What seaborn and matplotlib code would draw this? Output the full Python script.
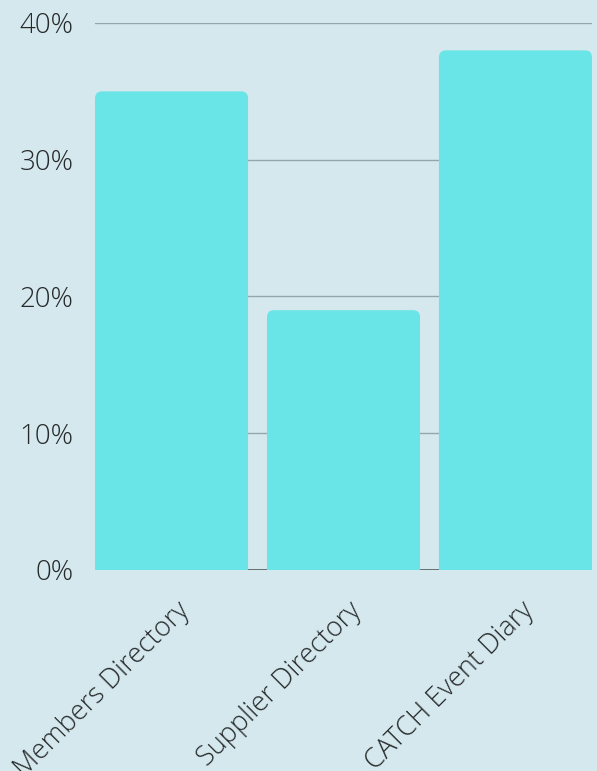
import matplotlib
matplotlib.use("Agg")
import matplotlib.pyplot as plt
import matplotlib.transforms as mtransforms
import seaborn as sns
import pandas as pd
from matplotlib.patches import FancyBboxPatch
from matplotlib.ticker import PercentFormatter

categories = ["Members Directory", "Supplier Directory", "CATCH Event Diary"]
values = [35, 19, 38]
yticks = [0, 10, 20, 30, 40]

BG = "#d5e8ed"
BAR = "#69e5e8"
TXT = "#25292a"

sns.set_theme(style="white")
plt.rcParams["font.family"] = ["Open Sans", "DejaVu Sans"]

df = pd.DataFrame({"cat": categories, "val": values})

W, H = 597, 771
fig = plt.figure(figsize=(W / 100, H / 100), dpi=100, facecolor=BG)
ax = fig.add_axes([95 / W, (H - 570) / H, (592 - 95) / W, (570 - 23) / H])
ax.set_facecolor(BG)

bw = 0.89
sns.barplot(data=df, x="cat", y="val", color=BAR, width=bw, saturation=1, ax=ax, zorder=2)
ax.set_xlim(-bw / 2, len(categories) - 1 + bw / 2)
ax.set_ylim(0, 40)

# replace bars by top-rounded bars
fig.canvas.draw()
xpx = ax.transData.transform([(1, 0)])[0][0] - ax.transData.transform([(0, 0)])[0][0]
ypx = ax.transData.transform([(0, 1)])[0][1] - ax.transData.transform([(0, 0)])[0][1]
r_px = 7
aspect = xpx / ypx
for p in list(ax.patches):
    x0, y0 = p.get_x(), p.get_y()
    w, h = p.get_width(), p.get_height()
    p.remove()
    ext = 2.0  # extend below zero so bottom corners are clipped square
    fb = FancyBboxPatch((x0, y0 - ext), w, h + ext,
                        boxstyle=f"round,pad=0,rounding_size={r_px / xpx}",
                        mutation_aspect=aspect, facecolor=BAR, edgecolor="none",
                        zorder=2, clip_on=True)
    ax.add_patch(fb)

ax.set_yticks(yticks)
ax.yaxis.set_major_formatter(PercentFormatter(decimals=0))
ax.grid(axis="y", color="#93a7ab", linewidth=1, zorder=0)
ax.axhline(0, color="#555f61", linewidth=1.2, zorder=1)
for s in ax.spines.values():
    s.set_visible(False)
ax.tick_params(axis="y", length=0, pad=15.5, labelsize=20, labelcolor=TXT)
ax.tick_params(axis="x", length=0, pad=6, labelsize=19.5, labelcolor=TXT)
for lbl in ax.get_yticklabels():
    lbl.set_fontweight("light")
ax.set_xticks(range(len(categories)))
ax.set_xticklabels(categories, rotation=45, ha="right", rotation_mode="anchor",
                   fontweight="light")
offset = mtransforms.ScaledTranslation(4 / 100, -18 / 100, fig.dpi_scale_trans)
for lbl in ax.get_xticklabels():
    lbl.set_transform(lbl.get_transform() + offset)
ax.set_xlabel("")
ax.set_ylabel("")

fig.savefig("out.png", dpi=100, facecolor=BG)
